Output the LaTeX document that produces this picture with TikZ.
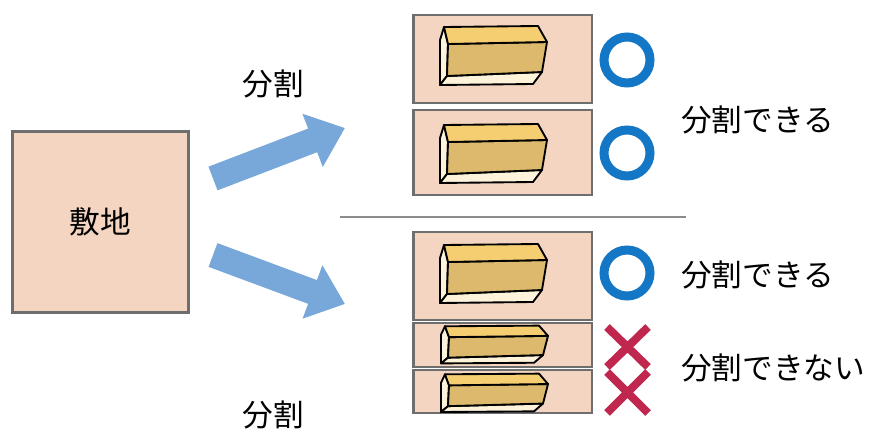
\documentclass[tikz,border=0pt]{standalone}
\usepackage{fontspec}
\setmainfont{Noto Sans CJK JP}
\usetikzlibrary{arrows.meta}

\definecolor{plotfill}{HTML}{F3D5C1}
\definecolor{plotedge}{HTML}{6E6E6E}
\definecolor{arrowblue}{HTML}{78A8DA}
\definecolor{okblue}{HTML}{1477C6}
\definecolor{ngred}{HTML}{C0274F}
\definecolor{woodtop}{HTML}{F5CE72}
\definecolor{woodfront}{HTML}{DCB96C}
\definecolor{woodlight}{HTML}{FDF2DA}
\definecolor{rulegray}{HTML}{8C8C8C}

\tikzset{
  lbl/.style={inner sep=0pt, font=\fontsize{23}{27}\selectfont},
  site/.style={draw=plotedge, line width=2.5pt, fill=plotfill,
    minimum width=132pt, minimum height=136pt, inner sep=0pt, outer sep=0pt},
  plot/.style={draw=plotedge, line width=2pt, fill=plotfill,
    minimum width=134pt, inner sep=0pt, outer sep=0pt},
  bigarrow/.style={arrowblue, line width=19pt,
    -{Triangle[length=26pt, width=41pt]}},
  ring/.style={draw=okblue, line width=6.75pt},
  cross/.style={draw=ngred, line width=6pt},
  woodline/.style={draw=black, line width=1.4pt, line join=round},
  lumber/.pic={
    % left end, bottom strip, front face, top face
    \filldraw[woodline, fill=woodlight] (4,2) -- (8,19) -- (7,51) -- (0,60) -- (0,15) -- cycle;
    \filldraw[woodline, fill=woodlight] (7,51) -- (102,47) -- (93,59) -- (0,60) -- cycle;
    \filldraw[woodline, fill=woodfront] (8,19) -- (107,17) -- (102,47) -- (7,51) -- cycle;
    \filldraw[woodline, fill=woodtop] (4,2) -- (98,1) -- (107,17) -- (8,19) -- cycle;
  }
}

\begin{document}
\begin{tikzpicture}[x=0.75pt, y=-0.75pt]
\useasboundingbox (0,0) rectangle (874,431);

% the site
\node[site, lbl] (site) at (100.5,222) {敷地};

% split arrows
\coordinate (upTail) at (213,178.5);
\coordinate (upTip) at (345,128);
\coordinate (dnTail) at (213,255);
\coordinate (dnTip) at (345,304);
\draw[bigarrow] (upTail) -- (upTip);
\draw[bigarrow] (dnTail) -- (dnTip);

\node[lbl] (splitA) at (273,84) {分割};
\node[lbl] (splitB) at (273,415) {分割};

% divider
\coordinate (ruleL) at (340,217);
\coordinate (ruleR) at (686,217);
\draw[rulegray, line width=1.5pt] (ruleL) -- (ruleR);

% plots
\node[plot, minimum height=66pt] (p1) at (502.5,59) {};
\node[plot, minimum height=63.75pt] (p2) at (502.5,152.5) {};
\node[plot, minimum height=66pt] (p3) at (502.5,276) {};
\node[plot, minimum height=33pt] (p4) at (502.5,345) {};
\node[plot, minimum height=32.25pt] (p5) at (502.5,391.5) {};

% buildings
\pic at (440,25) {lumber};
\pic at (440,123) {lumber};
\pic at (440,243) {lumber};
\pic[yscale=0.64] at (441,325) {lumber};
\pic[yscale=0.65] at (441,373) {lumber};

% marks
\draw[ring] (627,60) circle (23);
\draw[ring] (627,153) circle (23);
\draw[ring] (627,273) circle (23);
\draw[cross] (607,327) -- (648,367) (648,327) -- (607,367);
\draw[cross] (607,372) -- (648,413) (648,372) -- (607,413);

% verdicts
\node[lbl, anchor=west] (okA) at (681,120) {分割できる};
\node[lbl, anchor=west] (okB) at (681,275) {分割できる};
\node[lbl, anchor=west] (ngA) at (681,368) {分割できない};
\end{tikzpicture}
\end{document}
